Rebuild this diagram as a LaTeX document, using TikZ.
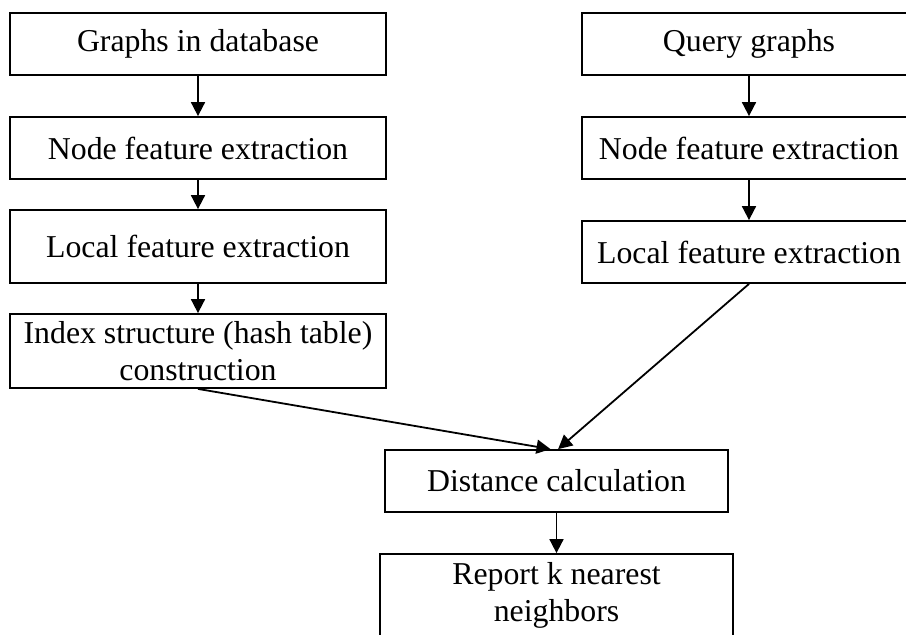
\documentclass[tikz,border=0pt]{standalone}
\usepackage{fontspec}
\setmainfont{Liberation Serif}
\usetikzlibrary{arrows.meta}

\begin{document}
\begin{tikzpicture}[x=0.5pt, y=-0.5pt,
    procbox/.style={draw, line width=0.9pt, inner sep=0pt, align=center,
        font=\fontsize{15.9}{18.5}\selectfont},
    flow/.style={-{Triangle[length=7pt, width=7pt]}, line width=0.9pt}]
    \useasboundingbox[fill=white] (0,0) rectangle (906,634);

    % --- Left column: database graphs ---
    \node[procbox, minimum width=188pt, minimum height=31pt] (dbgraphs) at (198,44) {Graphs in database};
    \node[procbox, minimum width=188pt, minimum height=31pt] (dbnode) at (198,148) {Node feature extraction};
    \node[procbox, minimum width=188pt, minimum height=36.5pt] (dblocal) at (198,246.5) {Local feature extraction};
    \node[procbox, minimum width=188pt, minimum height=37pt] (index) at (198,351) {Index structure (hash table)\\construction};

    % --- Right column: query graphs ---
    \node[procbox, minimum width=167pt, minimum height=31pt] (query) at (749,44) {Query graphs};
    \node[procbox, minimum width=167pt, minimum height=31pt] (qnode) at (749,148) {Node feature extraction};
    \node[procbox, minimum width=167pt, minimum height=31pt] (qlocal) at (749,252) {Local feature extraction};

    % --- Bottom: matching ---
    \node[procbox, minimum width=171.5pt, minimum height=31pt] (dist) at (556.5,481) {Distance calculation};
    \node[procbox, minimum width=176.5pt, minimum height=41pt] (report) at (556.5,595) {Report k nearest\\neighbors};

    % Connectors
    \draw[flow] (dbgraphs) -- (dbnode);
    \draw[flow] (dbnode) -- (dblocal);
    \draw[flow] (dblocal) -- (index);
    \draw[flow] (query) -- (qnode);
    \draw[flow] (qnode) -- (qlocal);
    \draw[flow] (index.south) -- ([xshift=-3pt]dist.north);
    \draw[flow] (qlocal.south) -- ([xshift=0.8pt]dist.north);
    \draw[flow] (dist) -- (report);
\end{tikzpicture}
\end{document}
